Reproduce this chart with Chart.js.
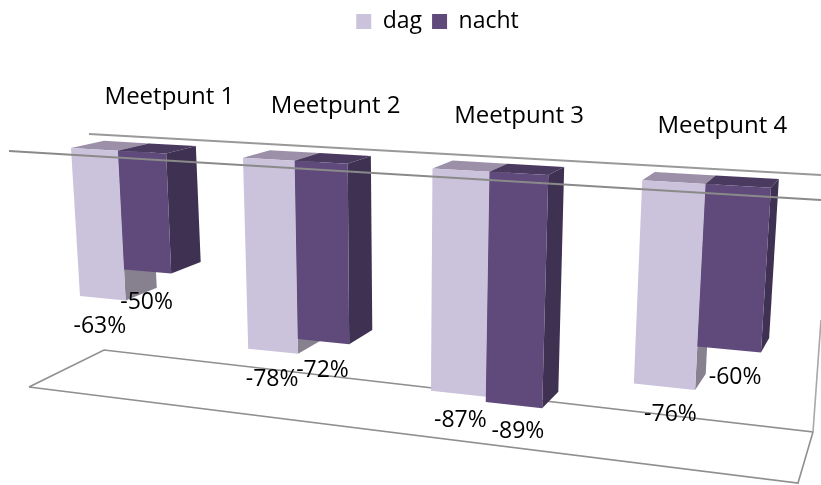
<!DOCTYPE html>
<html><head><meta charset="utf-8">
<style>html,body{margin:0;padding:0;background:#fff}canvas{display:block}</style>
<script src="https://cdn.jsdelivr.net/npm/chart.js@4"></script>
</head><body><canvas id="c" width="821" height="485"></canvas>
<script>
const categories = ["Meetpunt 1","Meetpunt 2","Meetpunt 3","Meetpunt 4"];
const dag = [-63,-78,-87,-76];
const nacht = [-50,-72,-89,-60];

// 3D look: perspective applied to the positions given by the chart's scales
const FONT = "'Open Sans'";
const COL = {
  dag:{front:"#CBC2DC",top:"#9C90A9",side:"#86808F"},
  nacht:{front:"#604A7B",top:"#4B3A60",side:"#3F3151"}
};
const groupWidth = 0.565;
const persp = {A:0.2324,B:0.0461,vx:990,vy:-50,depth:0.036,
  tl:[71,148],tr:[777,188],bl:[85.3,383],br:[760,463]};
const frame = {
  back:[[89,134],[821,175]],
  front:[[9,151],[821,200]],
  floor:[[29,387],[104,350],[813,432],[798,483],[29,387]],
  wall:[[813,432],[821,320]]
};
const labelOffsets = {
  dag:[[-3,35],[-1,35],[2,33],[6,34]],
  nacht:[[-1,37],[-1,35],[4,33],[6,35]]
};
const categoryLift = [47,48,49,51];

function project(chart,px,py){
  const a=chart.chartArea, W=a.right-a.left, H=a.bottom-a.top;
  const s=(px-a.left)/(W/4)-(0.5-groupWidth/2), t=(py-a.top)/H;
  const u=persp.A*s/(1-persp.B*s);
  const lerp=(p,q,f)=>p+(q-p)*f;
  const xT=lerp(persp.tl[0],persp.tr[0],u), yT=lerp(persp.tl[1],persp.tr[1],u);
  const xB=lerp(persp.bl[0],persp.br[0],u), yB=lerp(persp.bl[1],persp.br[1],u);
  return [lerp(xT,xB,t),lerp(yT,yB,t)];
}
const back=(p,k=persp.depth)=>[p[0]+k*(persp.vx-p[0]),p[1]+k*(persp.vy-p[1])];
function poly(ctx,pts,fill){
  ctx.beginPath();pts.forEach((p,i)=>i?ctx.lineTo(p[0],p[1]):ctx.moveTo(p[0],p[1]));
  ctx.closePath();ctx.fillStyle=fill;ctx.fill();
}
function line(ctx,pts,w,col){
  ctx.beginPath();pts.forEach((p,i)=>i?ctx.lineTo(p[0],p[1]):ctx.moveTo(p[0],p[1]));
  ctx.lineWidth=w;ctx.strokeStyle=col;ctx.stroke();
}
function prism(chart,el,c){
  const ctx=chart.ctx,l=el.x-el.width/2,r=el.x+el.width/2;
  const TL=project(chart,l,el.base),TR=project(chart,r,el.base);
  const BL=project(chart,l,el.y),BR=project(chart,r,el.y);
  poly(ctx,[TL,TR,back(TR),back(TL)],c.top);
  poly(ctx,[TR,BR,back(BR),back(TR)],c.side);
  poly(ctx,[TL,TR,BR,BL],c.front);
  return [(BL[0]+BR[0])/2,(BL[1]+BR[1])/2];
}
const perspectivePlugin={
  id:"perspective",
  beforeDatasetDraw(){return false;},
  beforeDatasetsDraw(chart){
    const ctx=chart.ctx;ctx.save();
    line(ctx,frame.floor,1.6,"#8f8f8f");
    line(ctx,frame.wall,1.6,"#a8a8a8");
    line(ctx,frame.back,1.8,"#999999");
    const names=["dag","nacht"],anchors=[];
    names.forEach((n,d)=>{
      chart.getDatasetMeta(d).data.forEach((el,i)=>{
        anchors.push({p:prism(chart,el,COL[n]),n,i,v:chart.data.datasets[d].data[i]});
      });
    });
    line(ctx,frame.front,2,"#8a8a8a");
    ctx.fillStyle="#000";ctx.textAlign="center";ctx.textBaseline="alphabetic";
    ctx.font="23px "+FONT;
    anchors.forEach(a=>{
      const o=labelOffsets[a.n][a.i];
      ctx.fillText(a.v+"%",a.p[0]+o[0],a.p[1]+o[1]);
    });
    ctx.font="24px "+FONT;
    categories.forEach((name,i)=>{
      const a=chart.getDatasetMeta(0).data[i];
      const p=project(chart,a.x+a.width/2,a.base);
      ctx.fillText(name,p[0]+0.059*(persp.vx-p[0]),p[1]-categoryLift[i]);
    });
    ctx.restore();
  }
};
new Chart(document.getElementById("c"),{
  type:"bar",
  data:{labels:categories,datasets:[
    {label:"dag",data:dag,backgroundColor:COL.dag.front,categoryPercentage:groupWidth,barPercentage:1},
    {label:"nacht",data:nacht,backgroundColor:COL.nacht.front,categoryPercentage:groupWidth,barPercentage:1}
  ]},
  options:{
    responsive:false,animation:false,
    layout:{padding:{left:54,right:0,top:0,bottom:10}},
    scales:{
      x:{display:false},
      y:{display:false,min:-100,max:0}
    },
    plugins:{
      tooltip:{enabled:false},
      legend:{display:true,position:"top",
        labels:{boxWidth:15,boxHeight:15,padding:10,color:"#000",font:{family:"Open Sans",size:23}}}
    }
  },
  plugins:[perspectivePlugin]
});
</script></body></html>
